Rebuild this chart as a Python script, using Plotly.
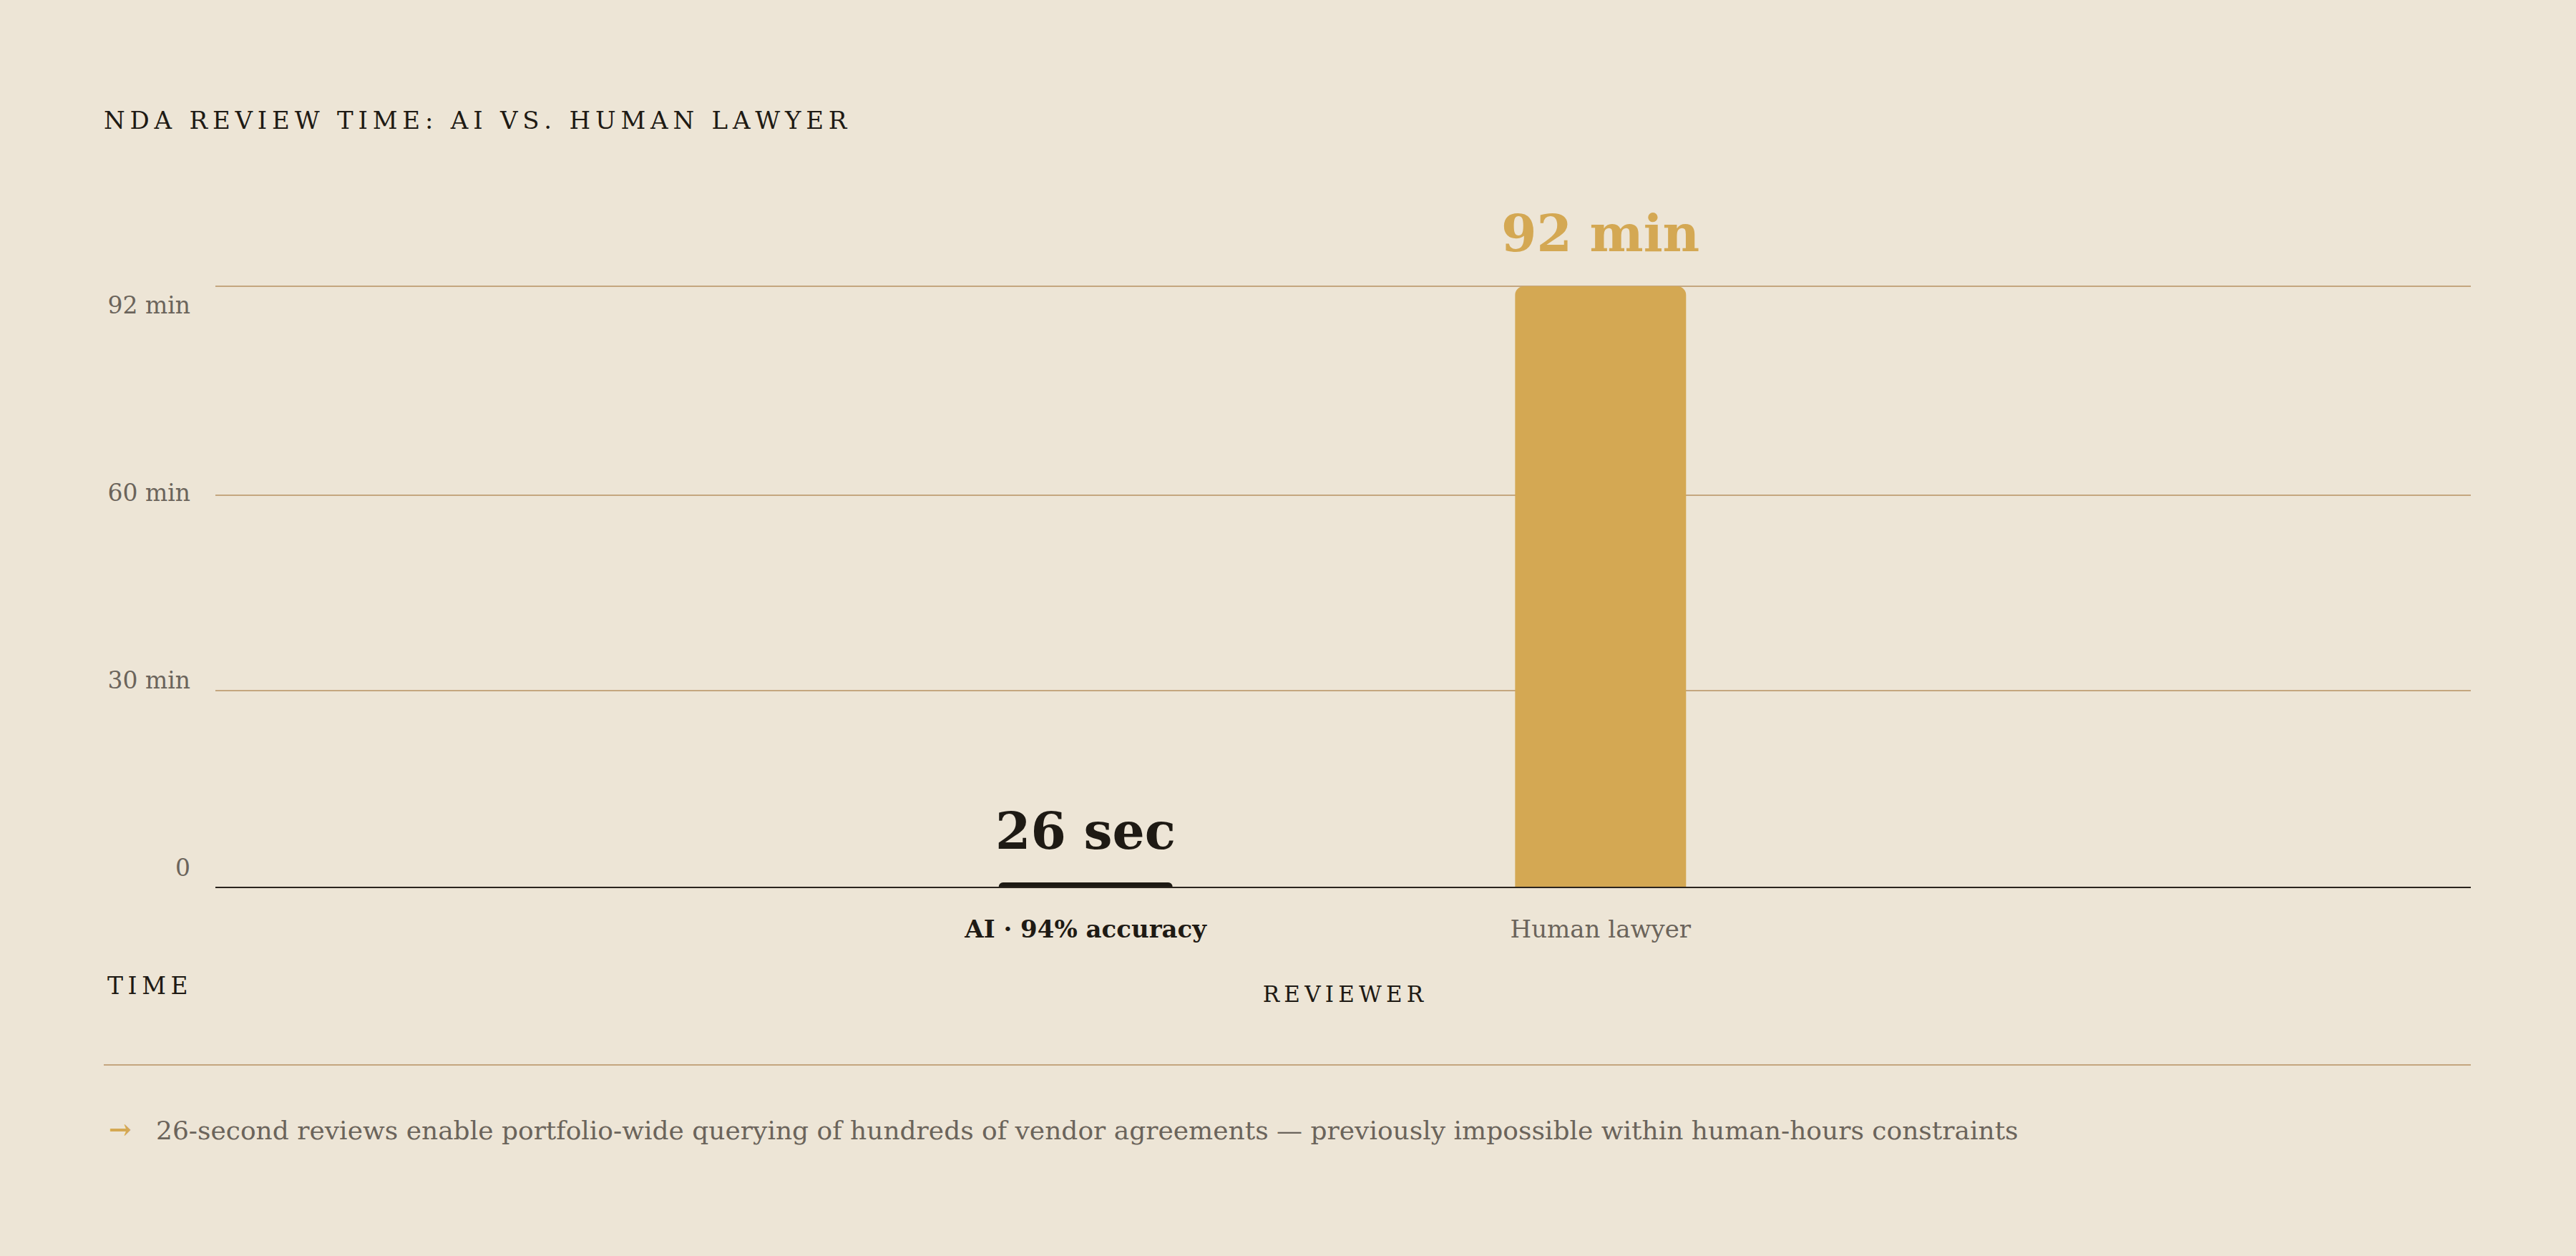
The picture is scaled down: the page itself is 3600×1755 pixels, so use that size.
import plotly.graph_objects as go

# data
reviewers = ["AI · 94% accuracy", "Human lawyer"]
review_minutes = [26 / 60, 92]
value_labels = ["26 sec", "92 min"]
grid_minutes = [0, 30, 60, 92]
y_tick_labels = ["0", "30 min", "60 min", "92 min"]

BG = "#EDE5D6"
GOLD = "#D4A853"
INK = "#1E1A14"
MUTED = "#6B645B"
RULE = "#C4A67F"
FONT = "DejaVu Serif"
THIN = "\u2009"

# plot box in pixels (bottom edge = 0 min)
PLOT_L, PLOT_R, PLOT_T, PLOT_B = 301, 3453, 391, 1239


def spaced(text):
    # fake letter-spacing with thin spaces
    return THIN.join(text)


def px_x(x):
    return (x - PLOT_L) / (PLOT_R - PLOT_L)


def px_y(y):
    return (PLOT_B - y) / (PLOT_B - PLOT_T)


fig = go.Figure()

fig.add_trace(go.Bar(
    x=reviewers,
    y=review_minutes,
    width=0.332,
    marker=dict(color=[INK, GOLD], line=dict(color=[INK, GOLD], width=[4, 0])),
    hoverinfo="skip",
    showlegend=False,
))

# invisible trace so the label axis is drawn
fig.add_trace(go.Scatter(
    x=[reviewers[0]] * len(y_tick_labels),
    y=list(range(len(y_tick_labels))),
    yaxis="y2",
    mode="markers",
    marker=dict(opacity=0),
    hoverinfo="skip",
    showlegend=False,
))

for name, val, lab, col in zip(reviewers, review_minutes, value_labels, [INK, GOLD]):
    fig.add_annotation(
        x=name, y=val, text="<b>" + lab + "</b>",
        showarrow=False, yanchor="middle", yshift=74,
        font=dict(family=FONT, size=71, color=col),
    )

tick_text = [
    "<b>" + reviewers[0] + "</b>",
    "<span style='color:%s'>%s</span>" % (MUTED, reviewers[1]),
]

fig.update_layout(
    width=3600,
    height=1755,
    paper_bgcolor=BG,
    plot_bgcolor=BG,
    margin=dict(l=PLOT_L, r=3600 - PLOT_R, t=PLOT_T, b=1755 - PLOT_B),
    barcornerradius=12,
    font=dict(family=FONT, color=INK),
    title=dict(
        text=spaced("NDA REVIEW TIME: AI VS. HUMAN LAWYER"),
        x=145 / 3600, xanchor="left", xref="container",
        y=1 - 168 / 1755, yanchor="middle",
        font=dict(family=FONT, size=34, color=INK),
    ),
    xaxis=dict(
        range=[-1.69, 2.69],
        tickvals=reviewers,
        ticktext=tick_text,
        tickfont=dict(family=FONT, size=34, color=INK),
        ticks="",
        ticklabelstandoff=28,
        showline=True, linecolor="#2B251E", linewidth=2,
        showgrid=False, zeroline=False,
        layer="below traces",
        title=dict(text=spaced("REVIEWER"), standoff=62,
                   font=dict(family=FONT, size=31, color=INK)),
    ),
    yaxis=dict(
        range=[0, 93],
        tickvals=grid_minutes,
        showticklabels=False,
        ticks="",
        showgrid=True, gridcolor=RULE, gridwidth=2,
        zeroline=False,
        layer="below traces",
    ),
    yaxis2=dict(
        overlaying="y", side="left",
        range=[-0.103, 3.134],
        tickvals=list(range(len(y_tick_labels))),
        ticktext=y_tick_labels,
        tickfont=dict(family=FONT, size=33, color=MUTED),
        ticks="",
        ticklabelstandoff=34,
        showgrid=False, zeroline=False, showline=False,
    ),
)

fig.add_annotation(
    xref="paper", yref="paper", x=px_x(206), y=px_y(1377),
    text=spaced("TIME"), showarrow=False, xanchor="center", yanchor="middle",
    font=dict(family=FONT, size=33, color=INK),
)

# divider + footer note
fig.add_shape(
    type="line", xref="paper", yref="paper",
    x0=px_x(145), x1=1, y0=px_y(1488), y1=px_y(1488),
    line=dict(color=RULE, width=2),
)
fig.add_annotation(
    xref="paper", yref="paper", x=px_x(168), y=px_y(1577),
    text="<b>→</b>", showarrow=False, xanchor="center", yanchor="middle",
    font=dict(family=FONT, size=38, color=GOLD),
)
fig.add_annotation(
    xref="paper", yref="paper", x=px_x(216), y=px_y(1579),
    text="26-second reviews enable portfolio-wide querying of hundreds of vendor agreements — previously impossible within human-hours constraints",
    showarrow=False, xanchor="left", yanchor="middle",
    font=dict(family=FONT, size=36, color=MUTED),
)

fig.write_html(
    "out.html",
    config={"displayModeBar": False},
    post_script="document.body.style.margin='0';",
)
